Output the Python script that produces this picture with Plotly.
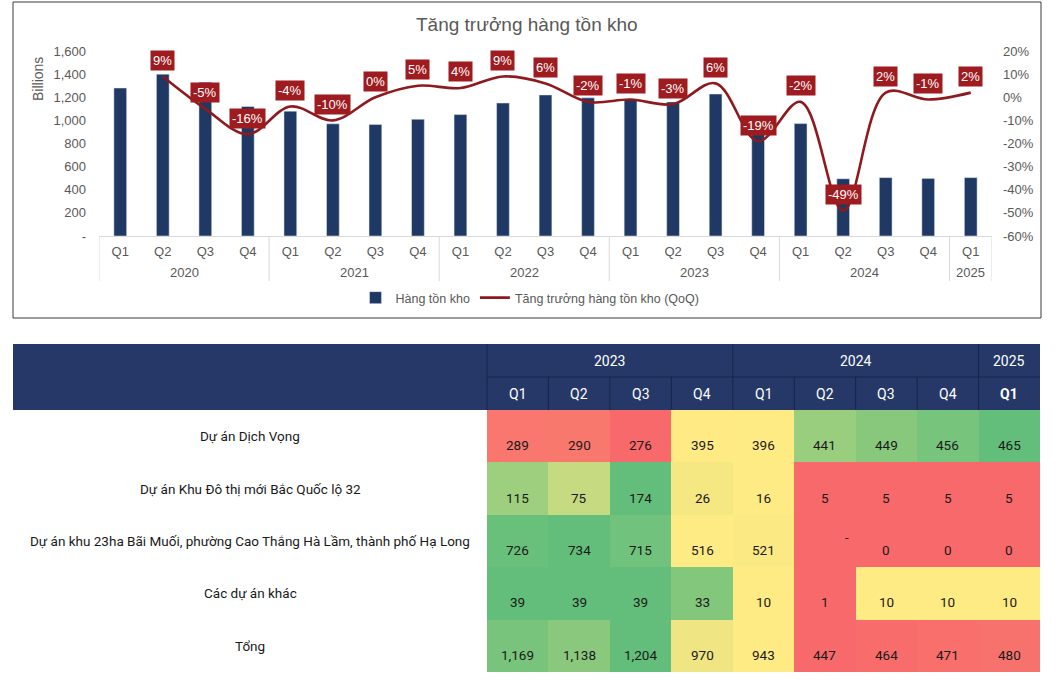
import plotly.graph_objects as go
import numpy as np

# ---------------- data ----------------
years = ["2020"] * 4 + ["2021"] * 4 + ["2022"] * 4 + ["2023"] * 4 + ["2024"] * 4 + ["2025"]
quarters = ["Q1", "Q2", "Q3", "Q4"] * 5 + ["Q1"]
inventory = [1280, 1400, 1330, 1120, 1080, 970, 965, 1010, 1050, 1150, 1220, 1195,
             1185, 1160, 1228, 995, 972, 495, 505, 498, 505]
growth = [None, 9, -5, -16, -4, -10, 0, 5, 4, 9, 6, -2, -1, -3, 6, -19, -2, -49, 2, -1, 2]

left_ticks = [0, 200, 400, 600, 800, 1000, 1200, 1400, 1600]
right_ticks = [-60, -50, -40, -30, -20, -10, 0, 10, 20]

t_years = ["2023", "2023", "2023", "2023", "2024", "2024", "2024", "2024", "2025"]
t_quarters = ["Q1", "Q2", "Q3", "Q4", "Q1", "Q2", "Q3", "Q4", "Q1"]
row_names = ["Dự án Dịch Vọng",
             "Dự án Khu Đô thị mới Bắc Quốc lộ 32",
             "Dự án khu 23ha Bãi Muối, phường Cao Thắng Hà Lầm, thành phố Hạ Long",
             "Các dự án khác",
             "Tổng"]
dich_vong = [289, 290, 276, 395, 396, 441, 449, 456, 465]
bac_ql32 = [115, 75, 174, 26, 16, 5, 5, 5, 5]
bai_muoi = [726, 734, 715, 516, 521, None, 0, 0, 0]
khac = [39, 39, 39, 33, 10, 1, 10, 10, 10]
tong = [1169, 1138, 1204, 970, 943, 447, 464, 471, 480]
table_rows = [dich_vong, bac_ql32, bai_muoi, khac, tong]

# ---------------- styling ----------------
W, H = 1057, 683
NAVY = "#1F3864"
RED_LINE = "#8E1A1E"
RED_LBL = "#9E1B20"
GRAY = "#595959"
HDR = "#263868"
HDR_LINE = "#17254A"
DIV = "#D9D9D9"
CHART_FONT = "Liberation Sans, Arial, sans-serif"
TABLE_FONT = "Roboto, Noto Sans, sans-serif"


def xp(px):
    return px / W


def yp(py):
    return 1 - py / H


def groups_of(labels):
    out = []
    for i, lab in enumerate(labels):
        if not out or out[-1][0] != lab:
            out.append([lab, i, i])
        else:
            out[-1][2] = i
    return out


fig = go.Figure()
xi = list(range(len(quarters)))

fig.add_trace(go.Bar(x=xi, y=inventory, name="Hàng tồn kho", marker_color=NAVY,
                     xaxis="x", yaxis="y"))
fig.add_trace(go.Scatter(x=xi, y=growth, name="Tăng trưởng hàng tồn kho (QoQ)",
                         mode="lines", line=dict(color=RED_LINE, width=2.6, shape="spline"),
                         xaxis="x", yaxis="y2", connectgaps=False))

annotations = []
shapes = []
for i, g in enumerate(growth):
    if g is None:
        continue
    annotations.append(dict(x=i, y=g, xref="x", yref="y2", text=f"{g}%", showarrow=False,
                            xanchor="center", yanchor="middle",
                            yshift=16, bgcolor=RED_LBL, borderpad=2,
                            font=dict(color="white", size=13, family=CHART_FONT)))

# year labels + dividers for the category axis
for y, c0, c1 in groups_of(years):
    annotations.append(dict(x=(c0 + c1) / 2, y=yp(273), xref="x", yref="paper", text=y, showarrow=False,
                            xanchor="center", yanchor="middle",
                            font=dict(size=13, color=GRAY, family=CHART_FONT)))
    shapes.append(dict(type="line", xref="x", yref="paper", x0=c0 - 0.5, x1=c0 - 0.5,
                       y0=yp(236), y1=yp(281), line=dict(color=DIV, width=1)))
shapes.append(dict(type="line", xref="x", yref="paper", x0=len(years) - 0.5, x1=len(years) - 0.5,
                   y0=yp(236), y1=yp(281), line=dict(color=DIV, width=1)))

annotations.append(dict(x=xp(527), y=yp(24), xref="paper", yref="paper", text="Tăng trưởng hàng tồn kho",
                        xanchor="center", yanchor="middle",
                        showarrow=False, font=dict(size=19, color=GRAY, family=CHART_FONT)))
annotations.append(dict(x=xp(38), y=yp(79), xref="paper", yref="paper", text="Billions", textangle=-90,
                        xanchor="center", yanchor="middle",
                        showarrow=False, font=dict(size=14, color=GRAY, family=CHART_FONT)))

# ---------------- table: body heatmap ----------------
def excel_scale(vals):
    v = np.array([0 if x is None else x for x in vals], dtype=float)
    lo, med, hi = v.min(), np.median(v), v.max()
    out = []
    for x in v:
        if x <= med:
            out.append(0.5 * (x - lo) / (med - lo) if med > lo else 0.5)
        else:
            out.append(0.5 + 0.5 * (x - med) / (hi - med) if hi > med else 0.5)
    return out


zc = [excel_scale(r) for r in table_rows]
ncol = len(t_quarters)
fig.add_trace(go.Heatmap(z=zc, x=list(range(ncol)), y=list(range(len(row_names))),
                         colorscale=[[0, "#F8696B"], [0.5, "#FFEB84"], [1, "#63BE7B"]],
                         zmin=0, zmax=1, showscale=False, hoverinfo="skip",
                         xaxis="x3", yaxis="y3"))

label_w = (487 - 13) / ((1040 - 487) / ncol)
x_lo = -0.5 - label_w
x_hi = ncol - 0.5

for r, (name, vals) in enumerate(zip(row_names, table_rows)):
    annotations.append(dict(x=-0.5 - label_w / 2, y=r, xref="x3", yref="y3", text=name, showarrow=False,
                            xanchor="center", yanchor="middle",
                            font=dict(size=13.5, color="#1a1a1a", family=TABLE_FONT)))
    for c, v in enumerate(vals):
        if v is None:
            annotations.append(dict(x=c, y=r, xref="x3", yref="y3", text="-", showarrow=False,
                                    xanchor="center", yanchor="middle", xshift=22, yshift=4,
                                    font=dict(size=13, color="#1a1a1a", family=TABLE_FONT)))
        else:
            annotations.append(dict(x=c, y=r, xref="x3", yref="y3", text=f"{v:,}", showarrow=False,
                                    xanchor="center", yanchor="middle", yshift=-9,
                                    font=dict(size=13.5, color="#1a1a1a", family=TABLE_FONT)))

# ---------------- table: header ----------------
shapes.append(dict(type="rect", xref="x4 domain", yref="y4 domain", x0=0, x1=1, y0=0, y1=1,
                   fillcolor=HDR, line=dict(width=0), layer="below"))
for c, q in enumerate(t_quarters):
    annotations.append(dict(x=c, y=1.5, xref="x4", yref="y4", text=f"<b>{q}</b>" if c == ncol - 1 else q,
                            xanchor="center", yanchor="middle",
                            showarrow=False, font=dict(size=14, color="white", family=TABLE_FONT)))
    shapes.append(dict(type="line", xref="x4", yref="y4", x0=c - 0.5, x1=c - 0.5, y0=1, y1=2,
                       line=dict(color=HDR_LINE, width=1)))
for y, c0, c1 in groups_of(t_years):
    annotations.append(dict(x=(c0 + c1) / 2, y=0.5, xref="x4", yref="y4", text=y, showarrow=False,
                            xanchor="center", yanchor="middle",
                            font=dict(size=14, color="white", family=TABLE_FONT)))
    shapes.append(dict(type="line", xref="x4", yref="y4", x0=c0 - 0.5, x1=c0 - 0.5, y0=0, y1=1,
                       line=dict(color=HDR_LINE, width=1)))
shapes.append(dict(type="line", xref="x4", yref="y4", x0=-0.5, x1=x_hi, y0=1, y1=1,
                   line=dict(color=HDR_LINE, width=1)))

# chart border
shapes.append(dict(type="rect", xref="paper", yref="paper", x0=xp(13), x1=xp(1041), y0=yp(318), y1=yp(2),
                   line=dict(color="#3a3a3a", width=1), fillcolor="rgba(0,0,0,0)"))

fig.update_layout(
    width=W, height=H,
    margin=dict(l=0, r=0, t=0, b=0),
    paper_bgcolor="white", plot_bgcolor="rgba(0,0,0,0)",
    font=dict(family=CHART_FONT, color=GRAY),
    bargap=0.70,
    showlegend=True,
    legend=dict(orientation="h", x=xp(530), xanchor="center", y=yp(298), yanchor="middle",
                font=dict(size=12.5, color=GRAY, family=CHART_FONT), bgcolor="rgba(0,0,0,0)",
                itemwidth=30, traceorder="normal"),
    xaxis=dict(domain=[xp(99), xp(992)], range=[-0.5, len(quarters) - 0.5], tickvals=xi, ticktext=quarters,
               showline=True, linecolor=DIV, tickfont=dict(size=13, color=GRAY), ticks="",
               ticklabelstandoff=3, automargin=False, showgrid=False, zeroline=False),
    yaxis=dict(domain=[yp(236), yp(51)], range=[0, 1600], tickvals=left_ticks,
               ticktext=["-" if v == 0 else f"{v:,}" for v in left_ticks],
               tickfont=dict(size=13, color=GRAY), showgrid=False, zeroline=False,
               ticklabelstandoff=12, automargin=False),
    yaxis2=dict(domain=[yp(236), yp(51)], range=[-60, 20], overlaying="y", side="right", anchor="x",
                tickvals=right_ticks, ticktext=[f"{v}%" for v in right_ticks],
                tickfont=dict(size=13, color=GRAY), showgrid=False, zeroline=False,
                ticklabelstandoff=10, automargin=False),
    xaxis3=dict(domain=[xp(13), xp(1040)], range=[x_lo, x_hi], visible=False, anchor="y3"),
    yaxis3=dict(domain=[yp(672), yp(410)], range=[len(row_names) - 0.5, -0.5], visible=False, anchor="x3"),
    xaxis4=dict(domain=[xp(13), xp(1040)], range=[x_lo, x_hi], visible=False, anchor="y4"),
    yaxis4=dict(domain=[yp(410), yp(344)], range=[2, 0], visible=False, anchor="x4"),
    annotations=annotations,
    shapes=shapes,
)

fig.write_html("out.html")
